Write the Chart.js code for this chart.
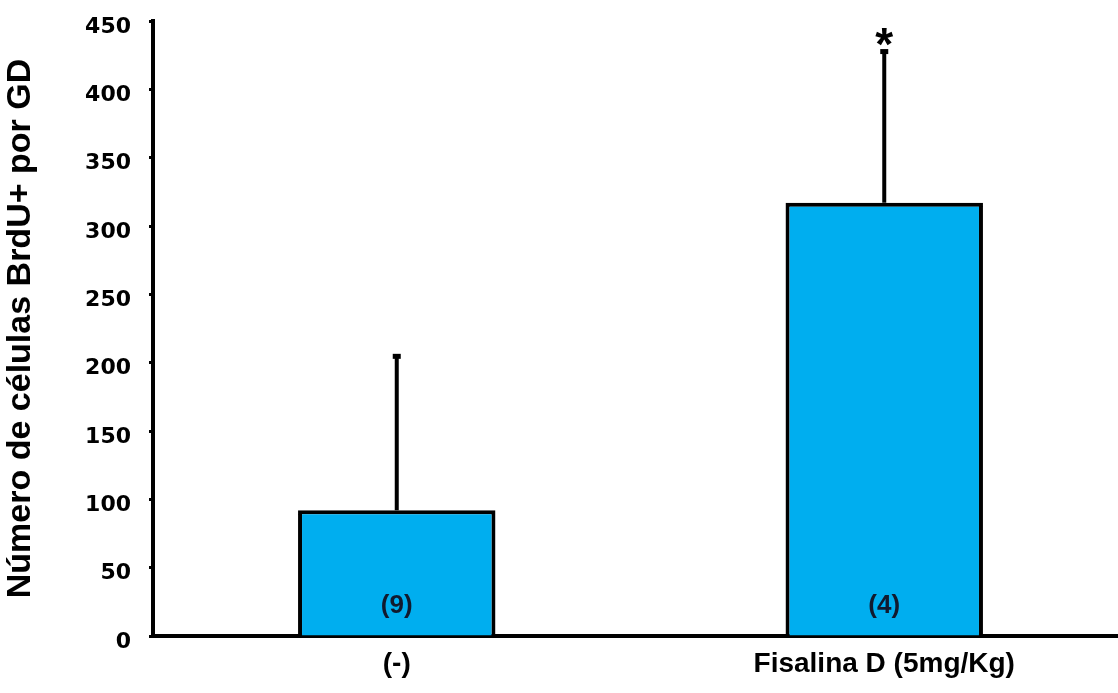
<!DOCTYPE html>
<html>
<head>
<meta charset="utf-8">
<script src="https://cdn.jsdelivr.net/npm/chart.js@4/dist/chart.umd.min.js"></script>
<style>
  html, body { margin: 0; padding: 0; background: #fff; overflow: hidden; }
  #wrap { width: 1130px; height: 693px; }
</style>
</head>
<body>
<div id="wrap"><canvas id="grafico"></canvas></div>
<script>
// dados
const categorias = ["(-)", "Fisalina D (5mg/Kg)"];
const medias = [92, 317];
const erros = [113, 111];
const nAnimais = ["(9)", "(4)"];
const signif = ["", "*"];
const yTicks = [0, 50, 100, 150, 200, 250, 300, 350, 400, 450];

const fonte = "'Liberation Sans', Arial, sans-serif";
const fonteTicks = "'DejaVu Sans', sans-serif";

// barras de erro, n e asterisco
const extras = {
    id: "extras",
    afterDatasetsDraw(chart) {
        const ctx = chart.ctx;
        const y = chart.scales.y;
        const meta = chart.getDatasetMeta(0);
        meta.data.forEach((bar, i) => {
            const x = bar.x;
            const topo = y.getPixelForValue(medias[i]);
            const fim = y.getPixelForValue(medias[i] + erros[i]);
            ctx.save();
            ctx.strokeStyle = "#000";
            ctx.lineWidth = 4;
            ctx.beginPath();
            ctx.moveTo(x, topo);
            ctx.lineTo(x, fim);
            ctx.stroke();
            ctx.fillStyle = "#000";
            ctx.fillRect(x - 4, fim - 2, 8, 5);

            ctx.font = "bold 26px " + fonte;
            ctx.fillStyle = "#111a2e";
            ctx.textAlign = "center";
            ctx.textBaseline = "middle";
            ctx.fillText(nAnimais[i], x, y.getPixelForValue(0) - 30);

            if (signif[i]) {
                ctx.font = "bold 46px " + fonte;
                ctx.fillStyle = "#000";
                ctx.textBaseline = "alphabetic";
                ctx.fillText(signif[i], x, fim + 9);
            }
            ctx.restore();
        });
    }
};

new Chart(document.getElementById("grafico"), {
    type: "bar",
    data: {
        labels: categorias,
        datasets: [
            {
                data: medias,
                backgroundColor: "#00aeef",
                borderColor: "#000",
                borderWidth: 4,
                borderSkipped: "bottom",
                categoryPercentage: 1,
                barPercentage: 0.405,
            },
        ],
    },
    options: {
        responsive: true,
        maintainAspectRatio: false,
        animation: false,
        layout: { padding: { top: 21, right: 2, left: 0, bottom: 0 } },
        plugins: {
            legend: { display: false },
            tooltip: { enabled: false },
        },
        scales: {
            x: {
                grid: { display: false },
                border: { display: true, color: "#000", width: 4 },
                ticks: {
                    color: "#000",
                    font: { family: fonte, size: 28, weight: "bold" },
                    padding: 3,
                },
                afterFit: (s) => {
                    s.height = 57;
                    s.paddingLeft = 0;
                    s.paddingRight = 0;
                },
            },
            y: {
                min: 0,
                max: 450,
                afterBuildTicks: (s) => { s.ticks = yTicks.map((v) => ({ value: v })); },
                grid: {
                    drawOnChartArea: false,
                    tickLength: 4,
                    tickColor: "#000",
                    tickWidth: 3,
                },
                border: { display: true, color: "#000", width: 4 },
                ticks: {
                    color: "#000",
                    font: { family: fonteTicks, size: 22, weight: "bold" },
                    padding: 18,
                    labelOffset: 6,
                },
                title: {
                    display: true,
                    text: "Número de células BrdU+ por GD",
                    color: "#000",
                    font: { family: fonte, size: 34, weight: "bold" },
                    padding: { top: 0, bottom: 6 },
                },
                afterFit: (s) => {
                    s.width = 153;
                    s.paddingTop = 0;
                    s.paddingBottom = 0;
                },
            },
        },
    },
    plugins: [extras],
});
</script>
</body>
</html>
